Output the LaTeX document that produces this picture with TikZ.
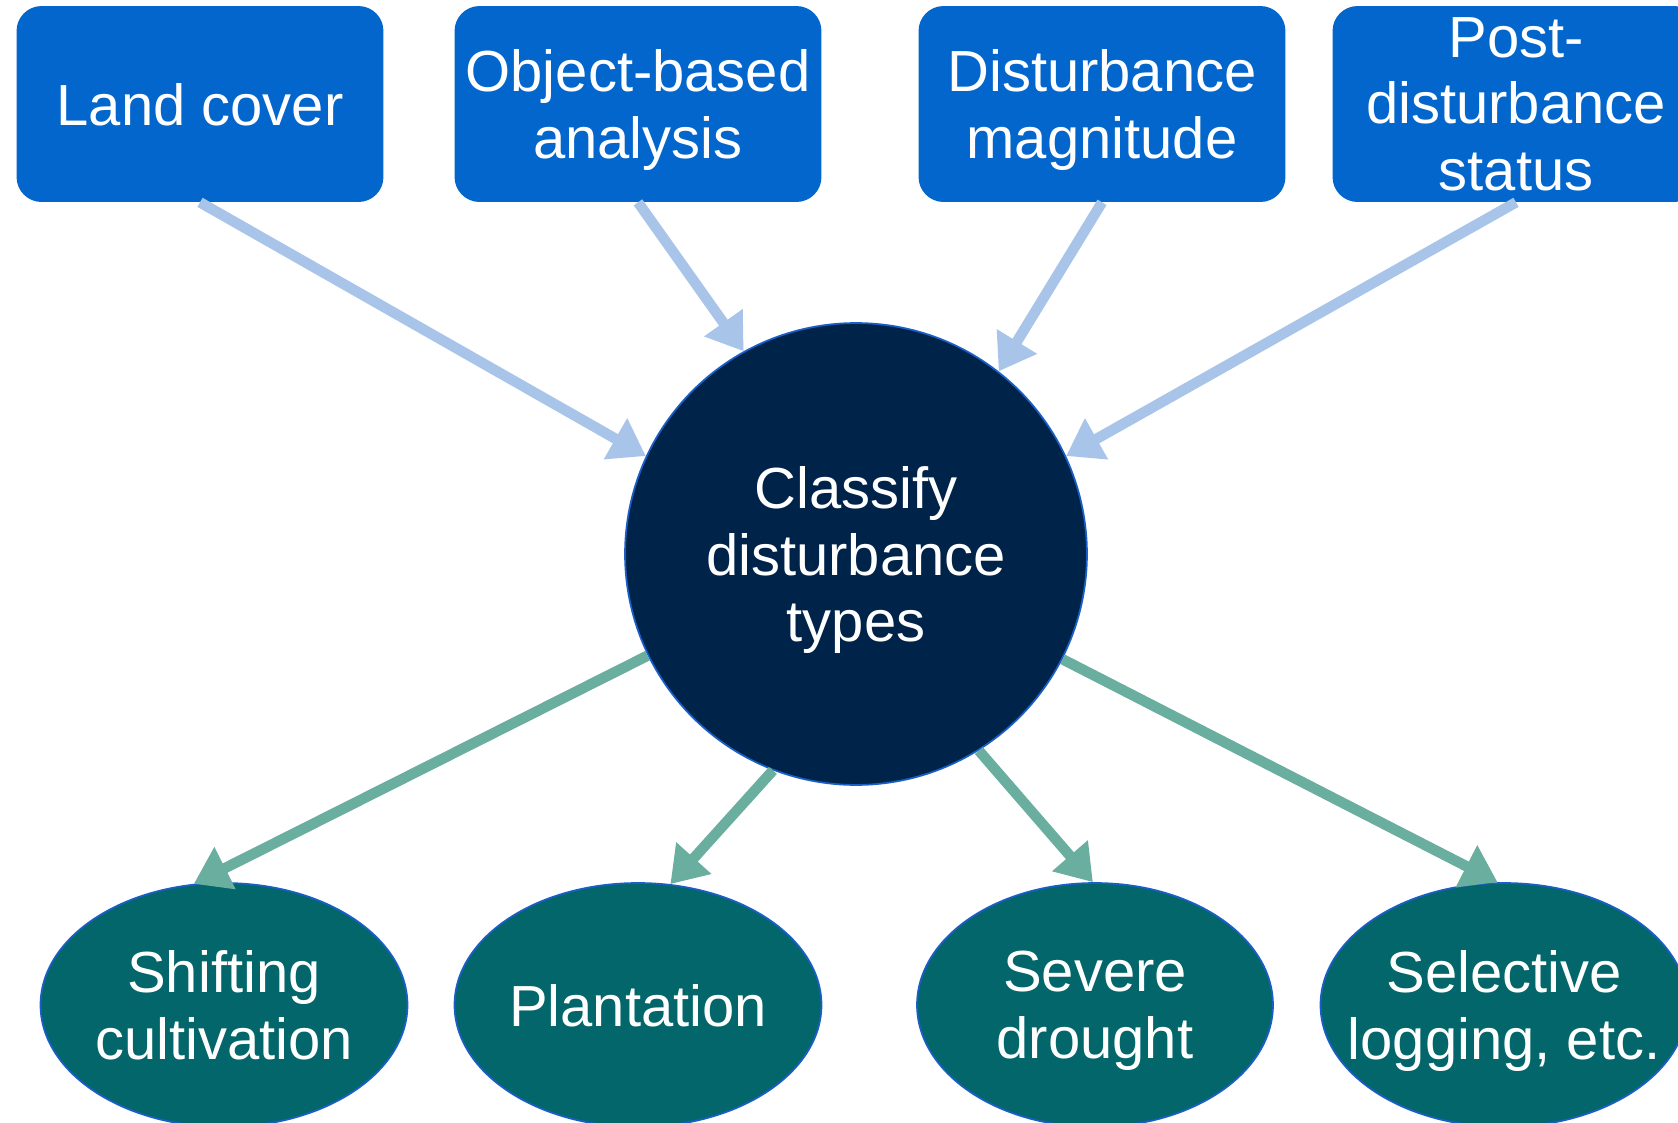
\documentclass[tikz,border=0pt]{standalone}
\usepackage{fontspec}
\setmainfont{Liberation Sans}
\usepackage{tikz}
\usetikzlibrary{positioning}
\usetikzlibrary{arrows.meta,shapes.geometric}

\definecolor{boxblue}{HTML}{0366CC}
\definecolor{hubnavy}{HTML}{00234A}
\definecolor{typeteal}{HTML}{02666A}
\definecolor{rimblue}{HTML}{1A5FC8}
\definecolor{inblue}{HTML}{A8C4E9}
\definecolor{outgreen}{HTML}{69AE9E}

\begin{document}
\begin{tikzpicture}
    [x=0.02cm, y=-0.02cm,
      factor/.style={rectangle, rounded corners=0.5cm, fill=boxblue, text=white, align=center, minimum width=7.34cm, minimum height=3.92cm, inner sep=0pt, text depth=0pt, font=\fontsize{33}{38}\selectfont},
      hub/.style={circle, draw=rimblue, line width=1pt, fill=hubnavy, text=white, align=center, minimum size=9.24cm, inner sep=0pt, text depth=0pt, font=\fontsize{33}{38}\selectfont},
      dtype/.style={ellipse, draw=rimblue, line width=1pt, fill=typeteal, text=white, align=center, minimum width=7.34cm, minimum height=4.88cm, inner sep=0pt, text depth=0pt, font=\fontsize{33}{38}\selectfont},
      inarc/.style={-{Triangle[length=0.7cm,width=0.9cm]}, line width=0.21cm, draw=inblue},
      outarc/.style={-{Triangle[length=0.7cm,width=0.9cm]}, line width=0.21cm, draw=outgreen}]

    \clip (0,0) rectangle (1678,1123);

    \node (landcover) at (200,104) [factor] {Land cover};
    \node (objbased) at (638,104) [factor] {Object-based\\analysis};
    \node (magnitude) at (1102,104) [factor] {Disturbance\\magnitude};
    \node (poststatus) at (1516,104) [factor] {Post-\\disturbance\\status};

    \node (classify) at (856,554) [hub] {Classify\\disturbance\\types};

    \node (shifting) at (224,1005) [dtype] {Shifting\\cultivation};
    \node (plantation) at (638,1005) [dtype] {Plantation};
    \node (drought) at (1095,1005) [dtype, minimum width=7.12cm] {Severe\\drought};
    \node (logging) at (1504,1005) [dtype, inner xsep=-0.6cm] {Selective\\logging, etc.};

    \draw[inarc] (landcover.south) to (classify.155);
    \draw[inarc] (objbased.south) to (classify.119);
    \draw[inarc] (magnitude.south) to (classify.52);
    \draw[inarc] (poststatus.south) to (classify.25);

    \draw[outarc] (classify.206) to (shifting.104);
    \draw[outarc] (classify.249) to (plantation.75);
    \draw[outarc] (classify.302) to (drought.91);
    \draw[outarc] (classify.333) to (logging.93);
  \end{tikzpicture}
\end{document}
